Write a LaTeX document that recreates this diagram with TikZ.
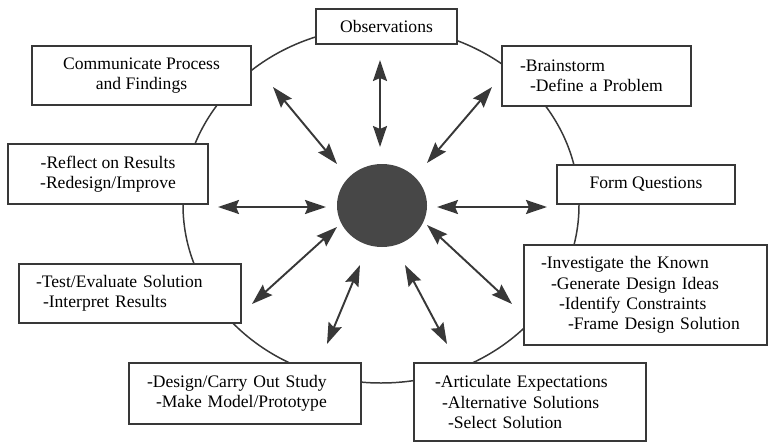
\documentclass[tikz,border=0pt]{standalone}
\usepackage{fontspec}
\setmainfont{Liberation Serif}
\usepackage{tikz}
\usetikzlibrary{arrows.meta,shapes.geometric}

\definecolor{ink}{gray}{0.22}
\definecolor{hubgray}{gray}{0.28}

\begin{document}
\begin{tikzpicture}[>={Stealth[length=4.2mm,width=2.8mm,inset=0.6mm]},
    stage/.style={draw=ink, line width=1.1pt, fill=white, rectangle, inner ysep=0pt,
                  font=\fontsize{10}{11.6}\selectfont},
    spoke/.style={<->, draw=ink, fill=ink, line width=1.1pt}]
    \useasboundingbox (0,0) rectangle (15.36,-8.86);

    % outer ring and hub
    \draw[ink, line width=0.85pt] (7.62,-4.10) ellipse [x radius=3.96, y radius=3.56];
    \node[ellipse, fill=hubgray, minimum width=1.8cm, minimum height=1.66cm, inner sep=0pt] (hub) at (7.64,-4.11) {};

    % stages
    \node[stage, minimum width=2.82cm, minimum height=0.70cm] (obs) at (7.73,-0.53) {Observations};
    \node[stage, align=center, minimum width=4.38cm, minimum height=1.18cm] (comm) at (2.83,-1.51) {Communicate Process\\and Findings};
    \node[stage, align=left, minimum height=1.2cm, text width=3.06cm, inner xsep=0.36cm] (brain) at (11.93,-1.52)
        {-Brainstorm\\\hspace*{0.2cm}-Define a Problem};
    \node[stage, align=center, minimum width=4.0cm, minimum height=1.2cm] (reflect) at (2.16,-3.48) {-Reflect on Results\\-Redesign/Improve};
    \node[stage, minimum width=3.56cm, minimum height=0.78cm] (formq) at (12.92,-3.69) {Form Questions};
    \node[stage, align=left, minimum height=2.0cm, text width=4.18cm, inner xsep=0.34cm] (invest) at (12.91,-5.90)
        {-Investigate the Known\\\hspace*{0.2cm}-Generate Design Ideas\\\hspace*{0.36cm}-Identify Constraints\\\hspace*{0.54cm}-Frame Design Solution};
    \node[stage, align=left, minimum height=1.18cm, text width=3.76cm, inner xsep=0.34cm] (test) at (2.60,-5.87)
        {-Test/Evaluate Solution\\\hspace*{0.14cm}-Interpret Results};
    \node[stage, align=left, minimum height=1.22cm, text width=3.92cm, inner xsep=0.36cm] (design) at (4.90,-7.87)
        {-Design/Carry Out Study\\\hspace*{0.18cm}-Make Model/Prototype};
    \node[stage, align=left, minimum height=1.56cm, text width=3.80cm, inner xsep=0.42cm] (artic) at (10.60,-8.04)
        {-Articulate Expectations\\\hspace*{0.14cm}-Alternative Solutions\\\hspace*{0.26cm}-Select Solution};

    % arrow ends
    \coordinate (obs-a) at (7.60,-1.20);   \coordinate (obs-b) at (7.60,-2.94);
    \coordinate (comm-a) at (5.46,-1.74);  \coordinate (comm-b) at (6.74,-3.28);
    \coordinate (brain-a) at (9.84,-1.74); \coordinate (brain-b) at (8.54,-3.26);
    \coordinate (refl-a) at (4.36,-4.14);  \coordinate (refl-b) at (6.52,-4.14);
    \coordinate (formq-a) at (10.94,-4.14); \coordinate (formq-b) at (8.74,-4.14);
    \coordinate (inv-a) at (10.24,-6.08);  \coordinate (inv-b) at (8.54,-4.50);
    \coordinate (art-a) at (8.94,-6.88);   \coordinate (art-b) at (8.10,-5.30);
    \coordinate (test-a) at (5.04,-6.08);  \coordinate (test-b) at (6.74,-4.54);
    \coordinate (des-a) at (6.54,-6.88);   \coordinate (des-b) at (7.20,-5.30);

    \draw[spoke] (obs-a) -- (obs-b);
    \draw[spoke] (comm-a) -- (comm-b);
    \draw[spoke] (brain-a) -- (brain-b);
    \draw[spoke] (refl-a) -- (refl-b);
    \draw[spoke] (formq-a) -- (formq-b);
    \draw[spoke] (inv-a) -- (inv-b);
    \draw[spoke] (art-a) -- (art-b);
    \draw[spoke] (test-a) -- (test-b);
    \draw[spoke] (des-a) -- (des-b);
\end{tikzpicture}
\end{document}
